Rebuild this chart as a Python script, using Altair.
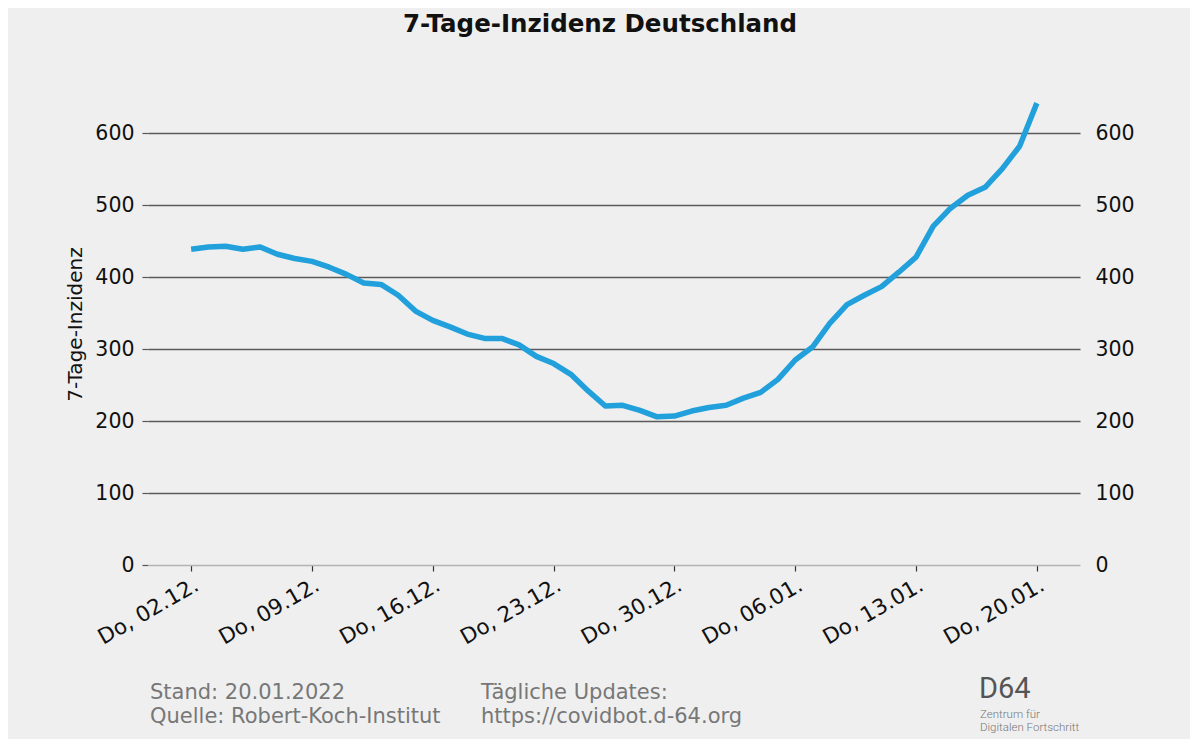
import altair as alt
import pandas as pd

# ---- data ----
start_date = "2021-12-02"
n_days = 50
incidence = [439, 442, 443, 439, 442, 432, 426, 422, 414, 404,
             392, 390, 375, 353, 340, 331, 321, 315, 315, 306,
             290, 280, 265, 242, 221, 222, 215, 206, 207, 214,
             219, 222, 232, 240, 258, 285, 303, 336, 362, 375,
             387, 407, 428, 471, 496, 514, 525, 551, 582, 642]
y_ticks = [0, 100, 200, 300, 400, 500, 600]
title_text = "7-Tage-Inzidenz Deutschland"
y_title = "7-Tage-Inzidenz"
footer_left = ["Stand: 20.01.2022", "Quelle: Robert-Koch-Institut"]
footer_mid = ["Tägliche Updates:", "https://covidbot.d-64.org"]
logo_big = "D64"
logo_small = ["Zentrum für", "Digitalen Fortschritt"]

dates = pd.date_range(start_date, periods=n_days, freq="D")
df = pd.DataFrame({"date": dates.strftime("%Y-%m-%d"), "value": incidence})

def ms(ts):
    return int(pd.Timestamp(ts, tz="UTC").value // 10**6)

tick_vals = [ms(d) for d in pd.date_range(start_date, periods=8, freq="7D")]
x_domain = [ms("2021-11-29 12:00"), ms("2022-01-22 12:00")]
y_domain = [0, 670]

W, H = 932, 482
FONT = "DejaVu Sans"
LINE_COLOR = "#21a0dc"
TICK_FS = 20.5

x_enc = alt.X(
    "date:T",
    scale=alt.Scale(type="utc", domain=x_domain, nice=False),
    axis=alt.Axis(
        values=tick_vals,
        labelExpr="'Do, ' + utcFormat(datum.value, '%d.%m.')",
        labelAngle=330, labelAlign="right", labelBaseline="top",
        labelFontSize=21.5, labelColor="#111", labelPadding=3,
        labelOverlap=False, labelFlush=False,
        domainColor="#b3b3b3", domainWidth=1.5,
        tickColor="#333", tickSize=6, tickWidth=1.2,
        grid=False, title=None, zindex=1,
    ),
)

left_line = alt.Chart(df).mark_line(color=LINE_COLOR, strokeWidth=5.5, strokeJoin="round").encode(
    x=x_enc,
    y=alt.Y(
        "value:Q",
        scale=alt.Scale(domain=y_domain, nice=False, zero=True),
        axis=alt.Axis(
            values=y_ticks, orient="left",
            labelFontSize=TICK_FS, labelColor="#111", labelPadding=8,
            tickSize=6, tickColor="#555", tickWidth=1.2,
            domain=False,
            grid=True,
            gridColor={"condition": {"test": "datum.value === 0", "value": "transparent"}, "value": "#5a5a5a"},
            gridWidth=1.3,
            title=y_title, titleFontSize=20, titleFontWeight="normal", titleColor="#111",
            titleX=-73, titleY=H / 2, titleAngle=270, titleAlign="center", titleBaseline="middle",
        ),
    ),
)

right_line = alt.Chart(df).mark_line(opacity=0).encode(
    x=alt.X("date:T", scale=alt.Scale(type="utc", domain=x_domain, nice=False)),
    y=alt.Y(
        "value:Q",
        scale=alt.Scale(domain=y_domain, nice=False, zero=True),
        axis=alt.Axis(
            values=y_ticks, orient="right",
            labelFontSize=TICK_FS, labelColor="#111", labelPadding=15,
            ticks=False, domain=False, grid=False, title=None,
        ),
    ),
)

one = pd.DataFrame({"k": [0]})

def txt(text, x, y, size, color="#111", weight="normal", align="left", baseline="middle", font=FONT):
    return alt.Chart(one).mark_text(
        text=text, font=font, fontSize=size, color=color, fontWeight=weight,
        align=align, baseline=baseline,
    ).encode(x=alt.value(x), y=alt.value(y))

FOOT_FS = 21
texts = [
    txt(title_text, 600 - 148, 25 - 83, 24.5, weight="bold", align="center"),
    txt(footer_left[0], 150 - 148, 693 - 83, FOOT_FS, color="#777"),
    txt(footer_left[1], 150 - 148, 717 - 83, FOOT_FS, color="#777"),
    txt(footer_mid[0], 481 - 148, 693 - 83, FOOT_FS, color="#777"),
    txt(footer_mid[1], 481 - 148, 717 - 83, FOOT_FS, color="#777"),
    txt(logo_big, 979 - 148, 689 - 83, 29, color="#555", weight=400, font="Roboto"),
    txt(logo_small[0], 980 - 148, 715 - 83, 11.5, color="#777", weight=300, font="Roboto"),
    txt(logo_small[1], 980 - 148, 728 - 83, 11.5, color="#777", weight=300, font="Roboto"),
]

chart = alt.layer(left_line, right_line, *texts).resolve_scale(y="independent").properties(
    width=W, height=H,
    autosize=alt.AutoSizeParams(type="none"),
    padding={"left": 140, "top": 75, "right": 110, "bottom": 174},
    background="#efefef",
).configure(font=FONT).configure_view(strokeWidth=0, stroke="transparent")

chart.save("out.html", embed_options={"renderer": "svg", "actions": False})
